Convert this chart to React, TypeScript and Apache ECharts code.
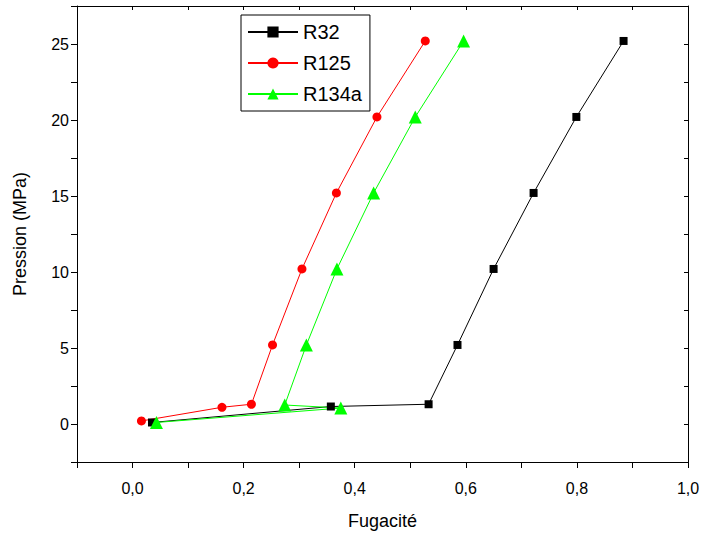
import React, { useEffect, useRef } from "react";
import * as echarts from "echarts";

const r32X = [0.035, 0.357, 0.533, 0.585, 0.650, 0.722, 0.799, 0.884];
const r32Y = [0.1, 1.15, 1.3, 5.2, 10.2, 15.2, 20.2, 25.2];
const r125X = [0.016, 0.161, 0.214, 0.252, 0.305, 0.367, 0.440, 0.527];
const r125Y = [0.2, 1.1, 1.3, 5.2, 10.2, 15.2, 20.2, 25.2];
const r134aX = [0.043, 0.375, 0.274, 0.313, 0.368, 0.434, 0.509, 0.596];
const r134aY = [0.1, 1.05, 1.25, 5.2, 10.2, 15.2, 20.2, 25.2];

const seriesNames = ["R32", "R125", "R134a"];
const xTitle = "Fugacité";
const yTitle = "Pression (MPa)";

const pair = (xs: number[], ys: number[]) => xs.map((x, i) => [x, ys[i]]);

export default function App() {
  const ref = useRef<HTMLDivElement>(null);
  useEffect(() => {
    if (!ref.current) return;
    const chart = echarts.init(ref.current, undefined, { renderer: "svg" });
    const font = "'Liberation Sans', Arial, sans-serif";
    const xLabel = (v: number) => {
      const k = Math.round(v * 10);
      if (k % 2 !== 0 || k < 0) return "";
      return (k / 10).toFixed(1).replace(".", ",");
    };
    const yLabel = (v: number) => {
      const k = Math.round(v * 10);
      if (k % 50 !== 0) return "";
      return String(k / 10);
    };
    const baseX = {
      type: "value",
      min: -0.1,
      max: 1.0,
      interval: 0.1,
      splitLine: { show: false },
      axisLine: { show: true, onZero: false, lineStyle: { color: "#000", width: 1 } },
    };
    const baseY = {
      type: "value",
      min: -2.5,
      max: 27.5,
      interval: 2.5,
      splitLine: { show: false },
      axisLine: { show: true, onZero: false, lineStyle: { color: "#000", width: 1 } },
    };
    chart.setOption({
      animation: false,
      backgroundColor: "#fff",
      grid: { left: 77, right: 16, top: 6, bottom: 72, containLabel: false },
      legend: {
        orient: "vertical",
        left: 241,
        top: 15,
        data: seriesNames,
        borderColor: "#000",
        borderWidth: 1,
        padding: [7, 8, 7, 6],
        itemWidth: 50,
        itemHeight: 14,
        itemGap: 11,
        textStyle: { fontFamily: font, fontSize: 20, color: "#000" },
      },
      xAxis: [
        {
          ...baseX,
          position: "bottom",
          name: xTitle,
          nameLocation: "middle",
          nameGap: 50,
          nameTextStyle: { fontFamily: font, fontSize: 18, color: "#000" },
          axisTick: { show: true, inside: false, length: 6, lineStyle: { color: "#000" } },
          axisLabel: { formatter: xLabel, fontFamily: font, fontSize: 16, color: "#000", margin: 18 },
        },
        {
          ...baseX,
          position: "top",
          axisTick: { show: true, inside: true, length: 4, lineStyle: { color: "#000" } },
          axisLabel: { show: false },
        },
      ],
      yAxis: [
        {
          ...baseY,
          position: "left",
          name: yTitle,
          nameLocation: "middle",
          nameGap: 48,
          nameRotate: 90,
          nameTextStyle: { fontFamily: font, fontSize: 18, color: "#000" },
          axisTick: { show: true, inside: false, length: 6, lineStyle: { color: "#000" } },
          axisLabel: { formatter: yLabel, fontFamily: font, fontSize: 16, color: "#000", margin: 8 },
        },
        {
          ...baseY,
          position: "right",
          axisTick: { show: true, inside: true, length: 4, lineStyle: { color: "#000" } },
          axisLabel: { show: false },
        },
      ],
      series: [
        {
          name: seriesNames[0],
          type: "line",
          data: pair(r32X, r32Y),
          symbol: "rect",
          symbolSize: 8,
          color: "#000000",
          lineStyle: { width: 1, color: "#000000" },
          itemStyle: { color: "#000000" },
        },
        {
          name: seriesNames[1],
          type: "line",
          data: pair(r125X, r125Y),
          symbol: "circle",
          symbolSize: 9,
          color: "#ff0000",
          lineStyle: { width: 1, color: "#ff0000" },
          itemStyle: { color: "#ff0000" },
        },
        {
          name: seriesNames[2],
          type: "line",
          data: pair(r134aX, r134aY),
          symbol: "triangle",
          symbolSize: 13,
          color: "#00ff00",
          lineStyle: { width: 1, color: "#00ff00" },
          itemStyle: { color: "#00ff00" },
        },
      ],
    });
    return () => chart.dispose();
  }, []);
  return (
    <div
      ref={ref}
      style={{ position: "fixed", left: 0, top: 0, width: 704, height: 535, background: "#fff" }}
    />
  );
}
